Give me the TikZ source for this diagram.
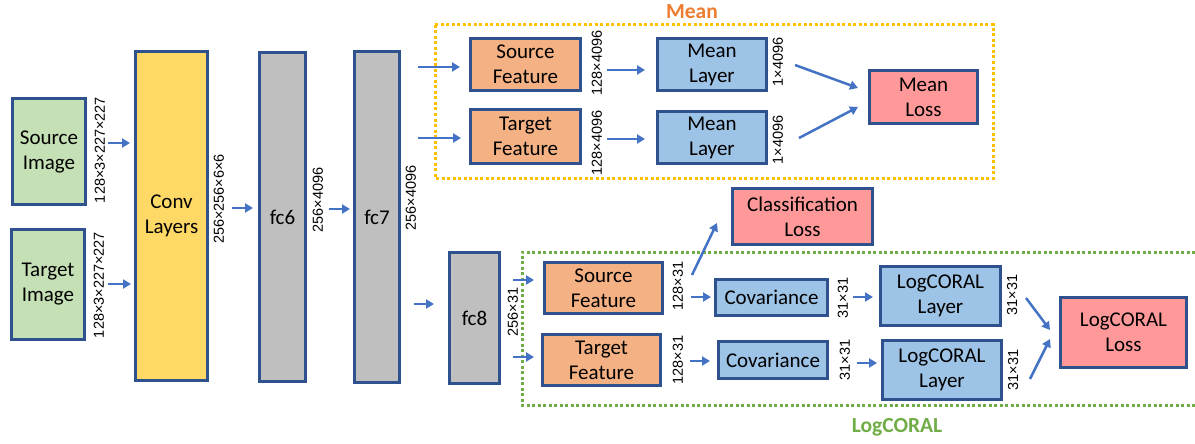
\documentclass[tikz,border=0pt]{standalone}
\usepackage{fontspec}
\setmainfont{Carlito}
\newfontfamily\dimfont{Liberation Sans}
\usetikzlibrary{arrows.meta,calc}
\definecolor{bord}{RGB}{47,82,143}
\definecolor{gfill}{RGB}{197,224,180}
\definecolor{yfill}{RGB}{255,217,102}
\definecolor{grfill}{RGB}{191,191,191}
\definecolor{ofill}{RGB}{244,177,131}
\definecolor{bfill}{RGB}{157,195,230}
\definecolor{pfill}{RGB}{255,153,153}
\definecolor{arrowc}{RGB}{68,114,196}
\definecolor{meanc}{RGB}{237,125,49}
\definecolor{yellowdot}{RGB}{255,192,0}
\definecolor{greenc}{RGB}{112,173,71}
\begin{document}
\begin{tikzpicture}[x=1pt,y=-1pt,
  box/.style={draw=bord,line width=3pt,align=center,inner sep=0pt,
    font=\fontsize{21}{25}\selectfont},
  sz/.style 2 args={minimum width=#1pt,minimum height=#2pt},
  dimlab/.style={rotate=90,inner sep=0pt,font=\dimfont\fontsize{14.5}{16}\selectfont},
  arr/.style={draw=arrowc,line width=2.5pt,-{Triangle[length=8pt,width=9pt]}},
  ydot/.style={draw=yellowdot,line width=3pt,dash pattern=on 3pt off 2.5pt},
  gdot/.style={draw=greenc,line width=3pt,dash pattern=on 3pt off 2.5pt},
  title/.style={font=\bfseries\fontsize{21.5}{25}\selectfont,inner sep=0pt}]
\useasboundingbox (0,0) rectangle (1195,444);
\fill[white] (0,0) rectangle (1195,444);

% dotted group frames
\draw[ydot] (435,25) rectangle (993,178);
\draw[gdot] (1195,252) -- (522,252) -- (522,405) -- (1195,405);
\node[title,text=meanc] (tmean) at (692,12) {Mean};
\node[title,text=greenc] (tlog) at (897,427) {LogCORAL};

% boxes
\node[box,fill=gfill,sz={73}{106}] (src) at (49,151.5) {Source\\Image};
\node[box,fill=gfill,sz={73}{110}] (tgt) at (48,284.5) {Target\\Image};
\node[box,fill=yfill,sz={72}{329}] (conv) at (171.5,216) {Conv\\Layers};
\node[box,fill=grfill,sz={46}{329}] (fc6) at (282.5,217) {fc6};
\node[box,fill=grfill,sz={45}{331}] (fc7) at (377,217) {fc7};
\node[box,fill=ofill,sz={110}{52}] (sf1) at (525.5,64.5) {Source\\Feature};
\node[box,fill=ofill,sz={110}{54}] (tf1) at (525.5,136.5) {Target\\Feature};
\node[box,fill=bfill,sz={109}{52}] (ml1) at (712,64.5) {Mean\\Layer};
\node[box,fill=bfill,sz={109}{52}] (ml2) at (712,137.5) {Mean\\Layer};
\node[box,fill=pfill,sz={108}{53}] (mloss) at (923.5,97) {Mean\\Loss};
\node[box,fill=grfill,sz={50}{131}] (fc8) at (474.5,318) {fc8};
\node[box,fill=pfill,sz={140}{56}] (cls) at (802.5,216.5) {Classification\\Loss};
\node[box,fill=ofill,sz={118}{51}] (sf2) at (603.5,288) {Source\\Feature};
\node[box,fill=ofill,sz={118}{51}] (tf2) at (601.5,360) {Target\\Feature};
\node[box,fill=bfill,sz={112}{36}] (cov1) at (771.5,297.5) {Covariance};
\node[box,fill=bfill,sz={109}{37}] (cov2) at (773,360) {Covariance};
\node[box,fill=bfill,sz={120}{59}] (lcl1) at (940.5,296) {LogCORAL\\Layer};
\node[box,fill=bfill,sz={119}{59}] (lcl2) at (942,370) {LogCORAL\\Layer};
\node[box,fill=pfill,sz={126}{70}] (lcloss) at (1123.5,332.5) {LogCORAL\\Loss};

% dimension labels
\node[dimlab] (d1) at (100,150) {128×3×227×227};
\node[dimlab] (d2) at (99,285) {128×3×227×227};
\node[dimlab] (d3) at (219,199) {256×256×6×6};
\node[dimlab] (d4) at (318,200) {256×4096};
\node[dimlab] (d5) at (411,198) {256×4096};
\node[dimlab] (d6) at (597,63) {128×4096};
\node[dimlab] (d7) at (597,143) {128×4096};
\node[dimlab] (d8) at (778,62) {1×4096};
\node[dimlab] (d9) at (778,140) {1×4096};
\node[dimlab] (d10) at (513,312) {256×31};
\node[dimlab] (d11) at (678,286) {128×31};
\node[dimlab] (d12) at (678,360) {128×31};
\node[dimlab] (d13) at (843,298) {31×31};
\node[dimlab] (d14) at (845,360) {31×31};
\node[dimlab] (d15) at (1012,295) {31×31};
\node[dimlab] (d16) at (1013,370) {31×31};

% connectors
\draw[arr] ($(src.east)+(21,-8.5)$) -- ($(conv.west)+(-4,-73)$);
\draw[arr] ($(tgt.east)+(22,-0.5)$) -- ($(conv.west)+(-3,68)$);
\draw[arr] ($(conv.east)+(23,-8)$) -- ($(fc6.west)+(-5,-9)$);
\draw[arr] ($(fc6.east)+(22,-8)$) -- ($(fc7.west)+(-3,-8)$);
\draw[arr] ($(fc7.east)+(17,-150)$) -- ($(sf1.west)+(-9,2.5)$);
\draw[arr] ($(fc7.east)+(17,-79)$) -- ($(tf1.west)+(-8,1.5)$);
\draw[arr] ($(fc7.east)+(13,87)$) -- ($(fc8.west)+(-14,-14)$);
\draw[arr] ($(sf1.east)+(25,5.5)$) -- ($(ml1.west)+(-11,5.5)$);
\draw[arr] ($(tf1.east)+(25,2.5)$) -- ($(ml2.west)+(-11,1.5)$);
\draw[arr] ($(ml1.east)+(27,0.5)$) -- ($(mloss.west)+(-10,-9)$);
\draw[arr] ($(ml2.east)+(31,0.5)$) -- ($(mloss.west)+(-10,10)$);
\draw[arr] ($(fc8.east)+(12,-38)$) -- ($(sf2.west)+(-9,-8)$);
\draw[arr] ($(fc8.east)+(12,39)$) -- ($(tf2.west)+(-7,-3)$);
\draw[arr] ($(sf2.east)+(28,-13)$) -- ($(cls.south west)+(-14,-23)$);
\draw[arr] ($(sf2.east)+(27,9)$) -- ($(cov1.west)+(-3,-0.5)$);
\draw[arr] ($(tf2.east)+(28,1)$) -- ($(cov2.west)+(-7,1)$);
\draw[arr] ($(cov1.east)+(24,-0.5)$) -- ($(lcl1.west)+(-6,1)$);
\draw[arr] ($(cov2.east)+(28,3)$) -- ($(lcl2.west)+(-4,-7)$);
\draw[arr] ($(lcl1.east)+(24,2)$) -- ($(lcloss.west)+(-9,-2.5)$);
\draw[arr] ($(lcl2.east)+(27,9)$) -- ($(lcloss.west)+(-9,6.5)$);
\end{tikzpicture}
\end{document}
